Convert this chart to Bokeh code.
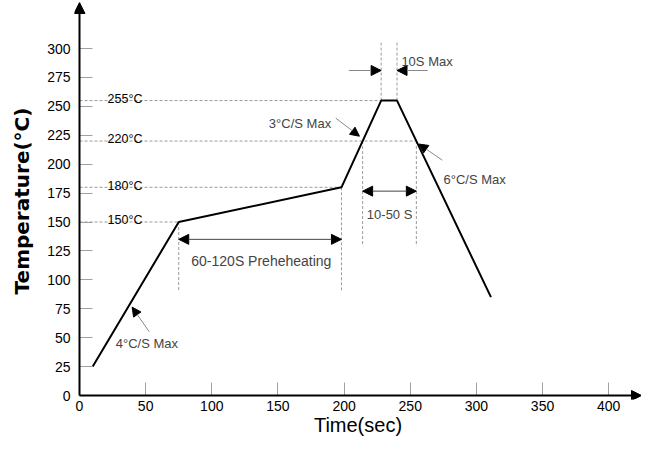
import numpy as np
from bokeh.plotting import figure
from bokeh.models import Arrow, NormalHead, Label, FixedTicker, Range1d
from bokeh.embed import file_html
from bokeh.resources import INLINE

# ---- data ----
time_s = [10, 75, 198, 228, 240, 311]
temp_c = [25, 150, 180, 255, 255, 85]

x_ticks = [0, 50, 100, 150, 200, 250, 300, 350, 400]
y_ticks = [0, 25, 50, 75, 100, 125, 150, 175, 200, 225, 250, 275, 300]

level_temps = [150, 180, 220, 255]
level_labels = ["150°C", "180°C", "220°C", "255°C"]

preheat_text = "60-120S Preheheating"
reflow_text = "10-50 S"
peak_text = "10S Max"
ramp_texts = ["4°C/S Max", "3°C/S Max", "6°C/S Max"]
x_title = "Time(sec)"
y_title = "Temperature(°C)"

# ---- derived crossings ----
rise_t = time_s[:4]
rise_y = temp_c[:4]
fall_t = time_s[4:][::-1]
fall_y = temp_c[4:][::-1]


def rise(v):
    return float(np.interp(v, rise_y, rise_t))


def fall(v):
    return float(np.interp(v, fall_y, fall_t))


level_end = [rise(150), rise(180), fall(220), rise(255)]

FONT = "Liberation Sans"
DASH_C = "#9a9a9a"

SX = 1.323    # px per second
SY = 1.1566   # px per degree
W, H = 641, 438
ML, MB, MT = 74, 39, 2
PADX = 5      # px between left frame edge and the y axis line
PADY = 4      # px between bottom frame edge and the x axis line
X_START = -PADX / SX
X_END = X_START + (W - ML) / SX
Y_START = -PADY / SY
Y_END = Y_START + (H - MB - MT) / SY

p = figure(width=W, height=H, output_backend="svg", toolbar_location=None,
           x_range=Range1d(X_START, X_END), y_range=Range1d(Y_START, Y_END),
           min_border_left=ML, min_border_right=0, min_border_top=MT,
           min_border_bottom=MB)
p.outline_line_color = None
p.grid.visible = False
p.background_fill_color = "white"
p.border_fill_color = "white"

for ax, ticks, pad in ((p.xaxis, x_ticks, PADY), (p.yaxis, y_ticks, PADX)):
    ax.ticker = FixedTicker(ticks=ticks)
    ax.axis_line_color = None
    ax.major_tick_line_color = "#a0a0a0"
    ax.major_tick_line_width = 1
    ax.major_tick_in = 13 + pad
    ax.major_tick_out = -pad
    ax.minor_tick_line_color = None
    ax.major_label_text_font = FONT
    ax.major_label_text_font_size = "14px"
    ax.major_label_text_color = "black"
    ax.axis_label_text_color = "black"

p.xaxis.major_label_standoff = 1
p.yaxis.major_label_standoff = 4

p.xaxis.axis_label = x_title
p.xaxis.axis_label_text_font = FONT
p.xaxis.axis_label_text_font_style = "normal"
p.xaxis.axis_label_text_font_size = "20px"
p.xaxis.axis_label_standoff = 0
p.yaxis.axis_label = y_title
p.yaxis.axis_label_text_font = "DejaVu Sans"
p.yaxis.axis_label_text_font_style = "bold"
p.yaxis.axis_label_text_font_size = "20px"
p.yaxis.axis_label_standoff = 10

# level dashed lines
p.segment(x0=[0] * 4, y0=level_temps, x1=level_end, y1=level_temps,
          line_color=DASH_C, line_width=1, line_dash="3 2")

# vertical dashed markers
v_x = [time_s[1], time_s[2], rise(220), fall(220), time_s[3], time_s[4]]
v_y0 = [temp_c[1], temp_c[2], 220, 220, temp_c[3], temp_c[4]]
v_y1 = [90, 90, 129, 129, 305.6, 305.6]
p.segment(x0=v_x, y0=v_y0, x1=v_x, y1=v_y1,
          line_color=DASH_C, line_width=1, line_dash="3 2")

# profile
p.line(time_s, temp_c, line_color="black", line_width=2)

# level labels
for t, lab in zip(level_temps, level_labels):
    p.add_layout(Label(x=21.2, y=t + 1.5, text=lab, text_font=FONT,
                       text_font_size="12.5px", text_baseline="alphabetic",
                       text_align="left", text_color="black"))


def head(sz=10):
    return NormalHead(size=sz, fill_color="black", line_color="black")


# double arrows
p.add_layout(Arrow(x_start=time_s[1], y_start=135, x_end=time_s[2], y_end=135,
                   start=head(), end=head(), line_color="#444444", line_width=1))
p.add_layout(Arrow(x_start=rise(220), y_start=176.7, x_end=fall(220), y_end=176.7,
                   start=head(), end=head(), line_color="#444444", line_width=1))
p.add_layout(Arrow(x_start=203.6, y_start=281, x_end=time_s[3], y_end=281,
                   end=head(), line_color="#888888", line_width=1))
p.add_layout(Arrow(x_start=263.2, y_start=281, x_end=time_s[4], y_end=281,
                   end=head(), line_color="#888888", line_width=1))

# leader arrows
leaders = [((52.7, 55.1), (39.8, 76.4)),
           ((193.7, 239.8), (211.6, 224.2)),
           ((274.3, 203.4), (256.5, 217.4))]
for (xs, ys), (xe, ye) in leaders:
    p.add_layout(Arrow(x_start=xs, y_start=ys, x_end=xe, y_end=ye,
                       end=head(9), line_color="#8a8a8a", line_width=1))

# texts
p.add_layout(Label(x=84.5, y=116.3, text=preheat_text, text_font=FONT,
                   text_font_size="14px", text_baseline="alphabetic"))
p.add_layout(Label(x=234.4, y=156.1, text=reflow_text, text_font=FONT,
                   text_font_size="13px", text_baseline="alphabetic",
                   text_align="center"))
p.add_layout(Label(x=243.3, y=289.1, text=peak_text, text_font=FONT,
                   text_font_size="13px", text_baseline="alphabetic"))
p.add_layout(Label(x=27.4, y=44.7, text=ramp_texts[0], text_font=FONT,
                   text_font_size="13px", text_baseline="alphabetic"))
p.add_layout(Label(x=190.2, y=235.4, text=ramp_texts[1], text_font=FONT,
                   text_font_size="13px", text_baseline="alphabetic",
                   text_align="right"))
p.add_layout(Label(x=275.1, y=186.8, text=ramp_texts[2], text_font=FONT,
                   text_font_size="13px", text_baseline="alphabetic"))

# axis lines with arrow heads
p.add_layout(Arrow(x_start=0, y_start=0, x_end=X_END, y_end=0,
                   end=NormalHead(size=10, fill_color="black", line_color="black"),
                   line_color="black", line_width=2))
p.add_layout(Arrow(x_start=0, y_start=0, x_end=0, y_end=Y_END,
                   end=NormalHead(size=11, fill_color="black", line_color="black"),
                   line_color="black", line_width=2))

open("out.html", "w").write(file_html(p, INLINE))
